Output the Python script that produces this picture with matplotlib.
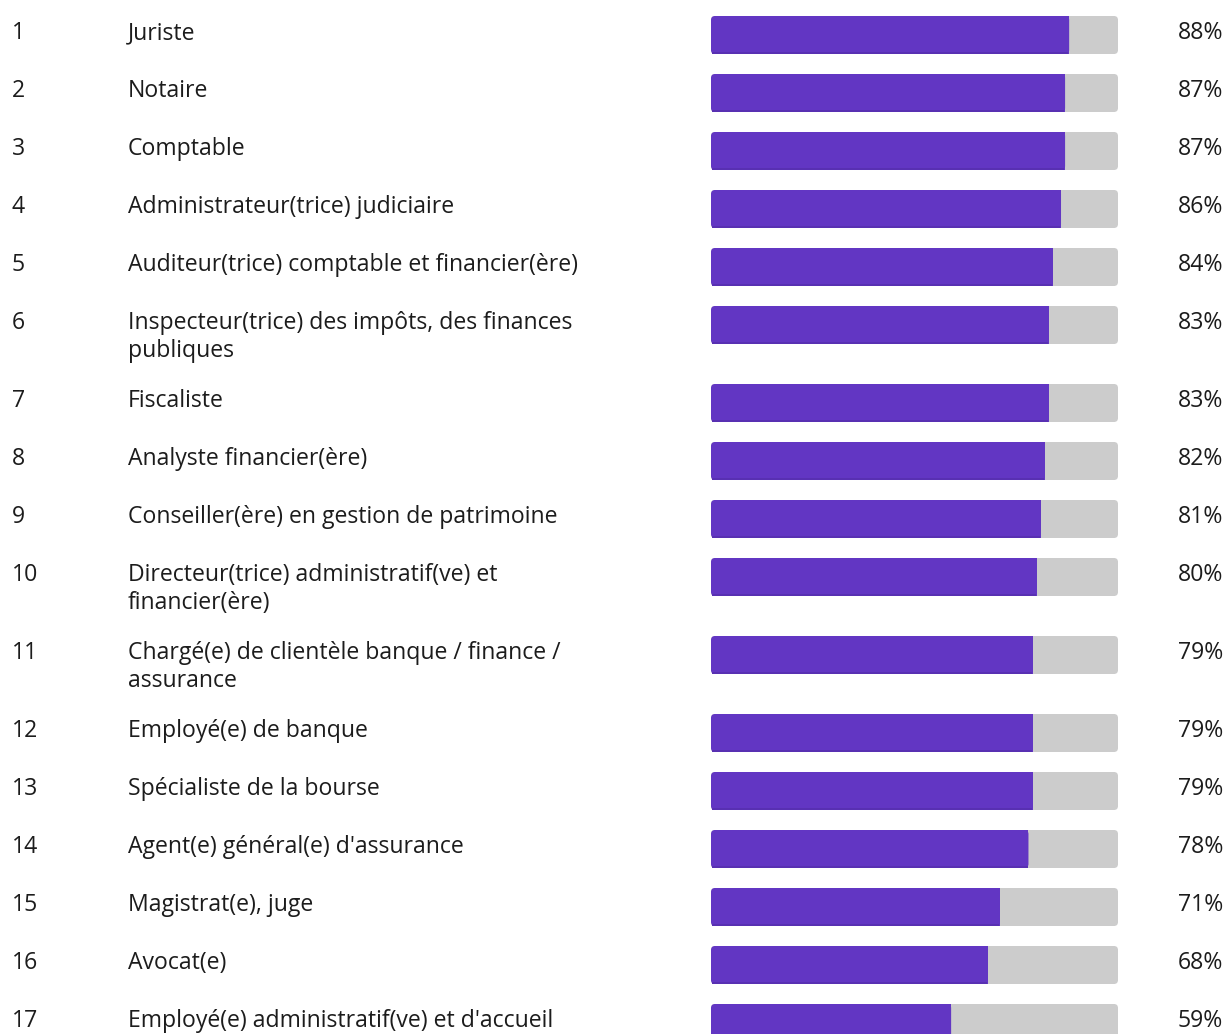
import matplotlib.pyplot as plt
from matplotlib.patches import FancyBboxPatch

plt.rcParams['font.family'] = ['Open Sans', 'DejaVu Sans']

# données
rangs = list(range(1, 18))
metiers = [
    "Juriste",
    "Notaire",
    "Comptable",
    "Administrateur(trice) judiciaire",
    "Auditeur(trice) comptable et financier(ère)",
    "Inspecteur(trice) des impôts, des finances\npubliques",
    "Fiscaliste",
    "Analyste financier(ère)",
    "Conseiller(ère) en gestion de patrimoine",
    "Directeur(trice) administratif(ve) et\nfinancier(ère)",
    "Chargé(e) de clientèle banque / finance /\nassurance",
    "Employé(e) de banque",
    "Spécialiste de la bourse",
    "Agent(e) général(e) d'assurance",
    "Magistrat(e), juge",
    "Avocat(e)",
    "Employé(e) administratif(ve) et d'accueil",
]
pourcentages = [88, 87, 87, 86, 84, 83, 83, 82, 81, 80, 79, 79, 79, 78, 71, 68, 59]

W, H = 1226, 1034
violet = '#6236c3'
violet_fonce = '#5830b2'
gris = '#cccccc'
texte = '#1c1c1c'
fs = 16.6

# position verticale de chaque ligne (en pixels depuis le haut)
hauts = []
y = 0
for m in metiers:
    hauts.append(y)
    y += 58 + 20 * (m.count('\n'))

fig = plt.figure(figsize=(W / 100, H / 100), dpi=100)

# axe texte en pixels
ax = fig.add_axes([0, 0, 1, 1])
ax.set_xlim(0, W)
ax.set_ylim(H, 0)
ax.axis('off')

# axe des barres : 0-100 %
bx = fig.add_axes([711 / W, 0, 407 / W, 1])
bx.set_xlim(0, 100)
bx.set_ylim(H, 0)
bx.axis('off')

asp = 407 / 100  # px par unité x
h_barre = 38
for r, m, p, top in zip(rangs, metiers, pourcentages, hauts):
    yb = top + 16
    # fond gris arrondi
    bx.add_patch(FancyBboxPatch((0, yb), 100, h_barre,
                                boxstyle="round,pad=0,rounding_size=1",
                                mutation_aspect=asp, fc=gris, ec='none'))
    # barre violette (coins gauches arrondis, bout droit carré)
    bx.add_patch(FancyBboxPatch((0, yb), p, h_barre,
                                boxstyle="round,pad=0,rounding_size=1",
                                mutation_aspect=asp, fc=violet, ec='none'))
    bx.barh(yb + h_barre / 2, p / 2, left=p / 2, height=h_barre,
            color=violet, linewidth=0)
    # légère ombre en bas
    bx.barh(yb + h_barre - 0.8, p - 0.4, left=0.2, height=1.6,
            color=violet_fonce, linewidth=0)

    base = top + 39
    ax.text(12, base, str(r), ha='left', va='baseline', fontsize=fs, color=texte)
    for k, ligne in enumerate(m.split('\n')):
        ax.text(128, base + 28 * k, ligne, ha='left', va='baseline',
                fontsize=fs, color=texte)
    ax.text(1223, base, f"{p}%", ha='right', va='baseline', fontsize=fs, color=texte)

fig.savefig('out.png', dpi=100, facecolor='white')
